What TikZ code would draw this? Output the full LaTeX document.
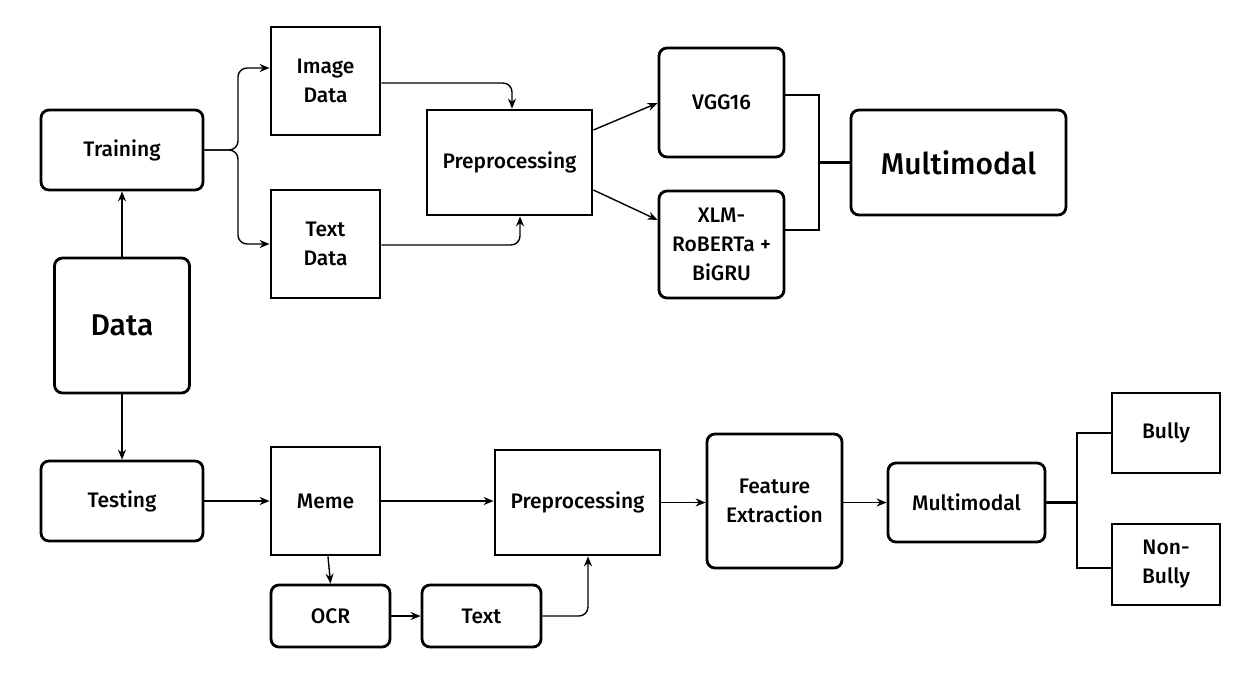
\documentclass[tikz,border=0pt]{standalone}
\usepackage{fontspec}
\setmainfont{Fira Sans Medium}
\usetikzlibrary{arrows.meta}
\begin{document}
\begin{tikzpicture}[x=1pt,y=-1pt,
  box/.style={draw,line width=2.8pt,align=center,font=\fontsize{21}{29}\selectfont,inner sep=0pt},
  rbox/.style={box,rounded corners=8pt},
  big/.style={font=\fontsize{30}{34}\selectfont},
  arr/.style={line width=1.4pt,-{Stealth[length=10pt,width=8pt]},rounded corners=9pt},
  brk/.style={line width=2.6pt}]
\useasboundingbox (0,0) rectangle (1246,685);
\node[rbox,minimum width=162pt,minimum height=80pt] (train) at (122,150) {Training};
\node[rbox,big,minimum width=135pt,minimum height=135pt] (data) at (122,325.5) {Data};
\node[rbox,minimum width=162pt,minimum height=80pt] (test) at (122,501) {Testing};
\node[box,minimum width=109pt,minimum height=108pt] (img) at (325.5,81) {Image\\Data};
\node[box,minimum width=109pt,minimum height=108pt] (txt) at (325.5,244) {Text\\Data};
\node[box,minimum width=165pt,minimum height=105pt] (pre1) at (509.5,162.5) {Preprocessing};
\node[rbox,minimum width=125pt,minimum height=109pt] (vgg) at (721.5,102.5) {VGG16};
\node[rbox,minimum width=125pt,minimum height=107pt] (xlm) at (721.5,244.5) {XLM-\\RoBERTa +\\BiGRU};
\node[rbox,big,minimum width=215pt,minimum height=105pt] (mm1) at (958.5,162.5) {Multimodal};
\node[box,minimum width=109pt,minimum height=108pt] (meme) at (325.5,501) {Meme};
\node[rbox,minimum width=119pt,minimum height=62pt] (ocr) at (330.5,616) {OCR};
\node[rbox,minimum width=119pt,minimum height=62pt] (text) at (481.5,616) {Text};
\node[box,minimum width=165pt,minimum height=105pt] (pre2) at (577.5,502.5) {Preprocessing};
\node[rbox,minimum width=135pt,minimum height=134pt] (feat) at (774.5,501) {Feature\\Extraction};
\node[rbox,minimum width=157pt,minimum height=79pt] (mm2) at (966.5,502.5) {Multimodal};
\node[box,minimum width=108pt,minimum height=80pt] (bully) at (1166,433) {Bully};
\node[box,minimum width=108pt,minimum height=81pt] (nbully) at (1166,564.5) {Non-\\Bully};
% connectors
\draw[arr] (data.north) -- (train.south);
\draw[arr] (data.south) -- (test.north);
\draw[arr] (train.east) -| (238,68) -- (img.west |- 0,68);
\draw[arr] (train.east) -| (238,244) -- (txt.west |- 0,244);
\draw[arr] (img.east |- 0,83) -| (pre1.north -| 512,0);
\draw[arr] (txt.east |- 0,245) -| (pre1.south -| 520,0);
\draw[arr] (pre1.east |- 0,130) -- (vgg.west |- 0,103);
\draw[arr] (pre1.east |- 0,190) -- (xlm.west |- 0,220);
\draw[brk] (vgg.east |- 0,95) -- (819,95) -- (819,230) -- (xlm.east |- 0,230);
\draw[brk] (819,162.5) -- (mm1.west);
\draw[arr] (test.east) -- (meme.west);
\draw[arr] (meme.east) -- (pre2.west |- meme.east);
\draw[arr] (meme.south -| 328,0) -- (ocr.north);
\draw[arr] (ocr.east) -- (text.west);
\draw[arr] (text.east) -| (pre2.south -| 588,0);
\draw[arr] (pre2.east) -- (feat.west |- pre2.east);
\draw[arr] (feat.east |- mm2.west) -- (mm2.west);
\draw[brk] (mm2.east) -- (1077,502.5);
\draw[brk] (bully.west) -- (1077,433) -- (1077,568) -- (nbully.west |- 0,568);
\end{tikzpicture}
\end{document}
